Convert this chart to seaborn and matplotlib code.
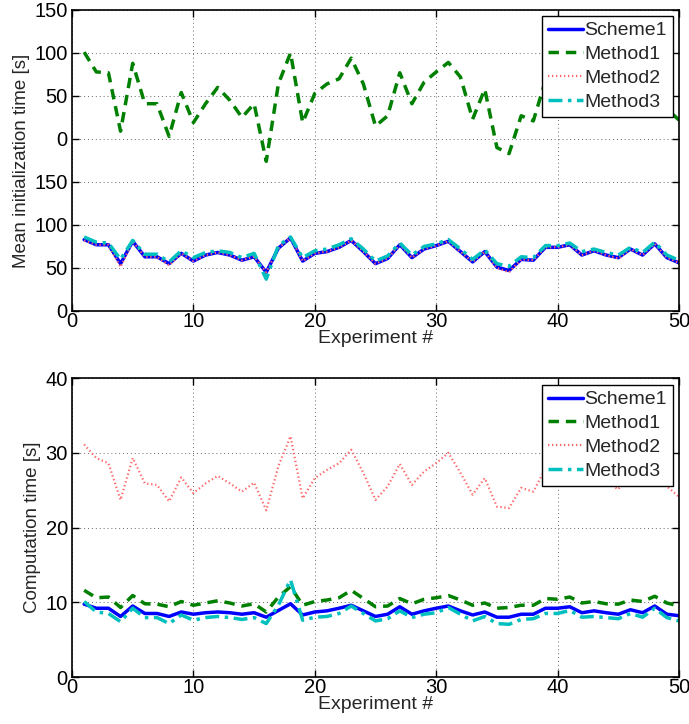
import numpy as np
import pandas as pd
import matplotlib
matplotlib.use("Agg")
import matplotlib.pyplot as plt
import seaborn as sns

experiments = list(range(1, 51))

# Mean initialization time [s]
init_scheme1 = [83, 77, 77, 55, 81, 63, 63, 55, 67, 58,
                65, 68, 65, 59, 63, 45, 73, 85, 58, 67,
                69, 74, 82, 69, 55, 61, 77, 62, 72, 76,
                81, 69, 57, 69, 51, 47, 60, 59, 74, 74,
                77, 65, 70, 65, 62, 72, 65, 78, 62, 56]
init_method1 = [301, 278, 277, 209, 288, 241, 241, 203, 254, 219,
                241, 260, 245, 225, 241, 174, 264, 300, 219, 253,
                264, 270, 294, 264, 215, 227, 277, 241, 266, 278,
                289, 272, 223, 258, 190, 183, 227, 221, 268, 270,
                275, 262, 278, 250, 231, 245, 258, 250, 235, 222]
init_method2 = [82, 77, 77, 51, 81, 63, 63, 53, 67, 58,
                65, 68, 65, 59, 63, 45, 73, 85, 58, 67,
                69, 74, 82, 69, 55, 61, 77, 62, 72, 76,
                81, 69, 57, 69, 50, 45, 60, 59, 74, 74,
                77, 65, 70, 65, 61, 72, 65, 78, 62, 56]
init_method3 = [86, 80, 79, 60, 82, 66, 66, 57, 70, 62,
                68, 70, 68, 62, 67, 37, 76, 86, 62, 70,
                72, 77, 84, 72, 58, 64, 79, 65, 75, 78,
                83, 72, 60, 71, 55, 52, 63, 62, 76, 76,
                79, 69, 72, 68, 65, 74, 68, 80, 65, 59]

# Computation time [s]
comp_scheme1 = [9.75, 9.2, 9.2, 8.1, 9.5, 8.5, 8.5, 8.1, 8.7, 8.4,
                8.6, 8.7, 8.6, 8.4, 8.6, 8.0, 8.9, 9.8, 8.3, 8.7,
                8.85, 9.2, 9.6, 8.85, 8.1, 8.4, 9.4, 8.4, 8.85, 9.2,
                9.5, 8.85, 8.3, 8.7, 8.0, 8.0, 8.4, 8.4, 9.2, 9.2,
                9.4, 8.6, 8.85, 8.6, 8.4, 9.0, 8.6, 9.5, 8.4, 8.2]
comp_method1 = [11.6, 10.6, 10.7, 9.3, 10.9, 9.8, 9.75, 9.4, 10.1, 9.6,
                9.9, 10.2, 9.9, 9.5, 9.8, 8.7, 10.7, 12.1, 9.6, 10.1,
                10.3, 10.6, 11.6, 10.5, 9.4, 9.5, 10.5, 9.8, 10.4, 10.6,
                10.9, 10.3, 9.6, 9.9, 9.2, 9.3, 9.6, 9.6, 10.5, 10.4,
                10.7, 9.9, 10.1, 9.8, 9.75, 10.3, 10.1, 10.8, 9.9, 9.5]
comp_method2 = [31.1, 29.3, 28.6, 23.7, 29.3, 25.9, 25.7, 23.5, 26.7, 24.6,
                25.9, 26.9, 25.9, 24.8, 26.0, 22.3, 28.2, 32.2, 23.9, 26.6,
                27.7, 28.6, 30.4, 27.3, 23.7, 25.5, 28.5, 25.7, 27.5, 28.6,
                30.0, 27.3, 24.4, 26.6, 22.8, 22.6, 25.3, 24.8, 27.9, 28.5,
                29.0, 27.0, 28.0, 26.1, 25.1, 28.0, 27.0, 29.0, 25.5, 24.1]
comp_method3 = [10.1, 8.7, 8.5, 7.4, 9.2, 7.95, 7.95, 7.15, 8.3, 7.6,
                7.95, 8.1, 7.95, 7.7, 7.95, 7.15, 9.6, 13.0, 7.6, 8.0,
                8.1, 8.5, 9.5, 8.5, 7.5, 7.8, 8.85, 7.95, 8.4, 8.6,
                9.3, 8.4, 7.5, 8.1, 7.15, 7.05, 7.7, 7.8, 8.5, 8.5,
                8.9, 8.0, 8.1, 7.95, 7.8, 8.5, 8.0, 9.2, 7.95, 7.5]

series_names = ["Scheme1", "Method1", "Method2", "Method3"]
top_ticks = [0, 50, 100, 150, 200, 250, 300, 350]
top_tick_labels = ["0", "50", "100", "150", "0", "50", "100", "150"]
bottom_ticks = [0, 10, 20, 30, 40]
x_ticks = [0, 10, 20, 30, 40, 50]

styles = {
    "Scheme1": dict(color="#0000ff", linestyle="-", linewidth=2.5),
    "Method1": dict(color="#008000", linestyle=(0, (3, 2)), linewidth=2.5),
    "Method2": dict(color="#ff6666", linestyle=(0, (0.6, 1.2)), linewidth=1.6),
    "Method3": dict(color="#00bfbf", linestyle=(0, (4, 1.6, 1, 1.6)), linewidth=2.5),
}

sns.set_style("ticks")
plt.rcParams["font.family"] = ["Liberation Sans", "DejaVu Sans"]
plt.rcParams["font.size"] = 14

fig = plt.figure(figsize=(6.89, 7.24), dpi=100)
ax_top = fig.add_axes([0.1045, 0.5705, 0.881, 0.4157])
ax_bot = fig.add_axes([0.1045, 0.0649, 0.881, 0.413])

def draw(ax, values, ylim, yticks, ylabel, yticklabels=None, legend_anchor=(0.99, 0.98)):
    df = pd.DataFrame({"x": experiments * 4,
                       "y": sum(values, []),
                       "series": sum([[n] * len(experiments) for n in series_names], [])})
    for name in series_names:
        sub = df[df["series"] == name]
        sns.lineplot(data=sub, x="x", y="y", ax=ax, label=name, **styles[name])
    ax.set_xlim(0, 50)
    ax.set_ylim(*ylim)
    ax.set_xticks(x_ticks)
    ax.set_yticks(yticks)
    if yticklabels is not None:
        ax.set_yticklabels(yticklabels)
    ax.grid(True, color="#666666", linestyle=(0, (1, 3)), linewidth=0.7)
    ax.tick_params(direction="in", top=True, right=True, length=5, width=1,
                   labelsize=14.5, pad=1, colors="black")
    ax.tick_params(axis="y", pad=3)
    for s in ax.spines.values():
        s.set_linewidth(1.2)
        s.set_color("black")
    ax.set_xlabel("Experiment #", fontsize=14, labelpad=-1)
    ax.set_ylabel(ylabel, fontsize=13.5, labelpad=3)
    leg = ax.legend(loc="upper right", bbox_to_anchor=legend_anchor, fontsize=14,
                    frameon=True, fancybox=False, framealpha=1, edgecolor="black",
                    handlelength=1.8, handletextpad=0.1, labelspacing=0.32,
                    borderpad=0.3, borderaxespad=0)
    leg.get_frame().set_linewidth(1.0)

draw(ax_top, [init_scheme1, init_method1, init_method2, init_method3],
     (0, 350), top_ticks, "Mean initialization time [s]", top_tick_labels,
     legend_anchor=(0.99, 0.98))
draw(ax_bot, [comp_scheme1, comp_method1, comp_method2, comp_method3],
     (0, 40), bottom_ticks, "Computation time [s]", legend_anchor=(0.99, 0.977))

fig.savefig("out.png", dpi=100)
